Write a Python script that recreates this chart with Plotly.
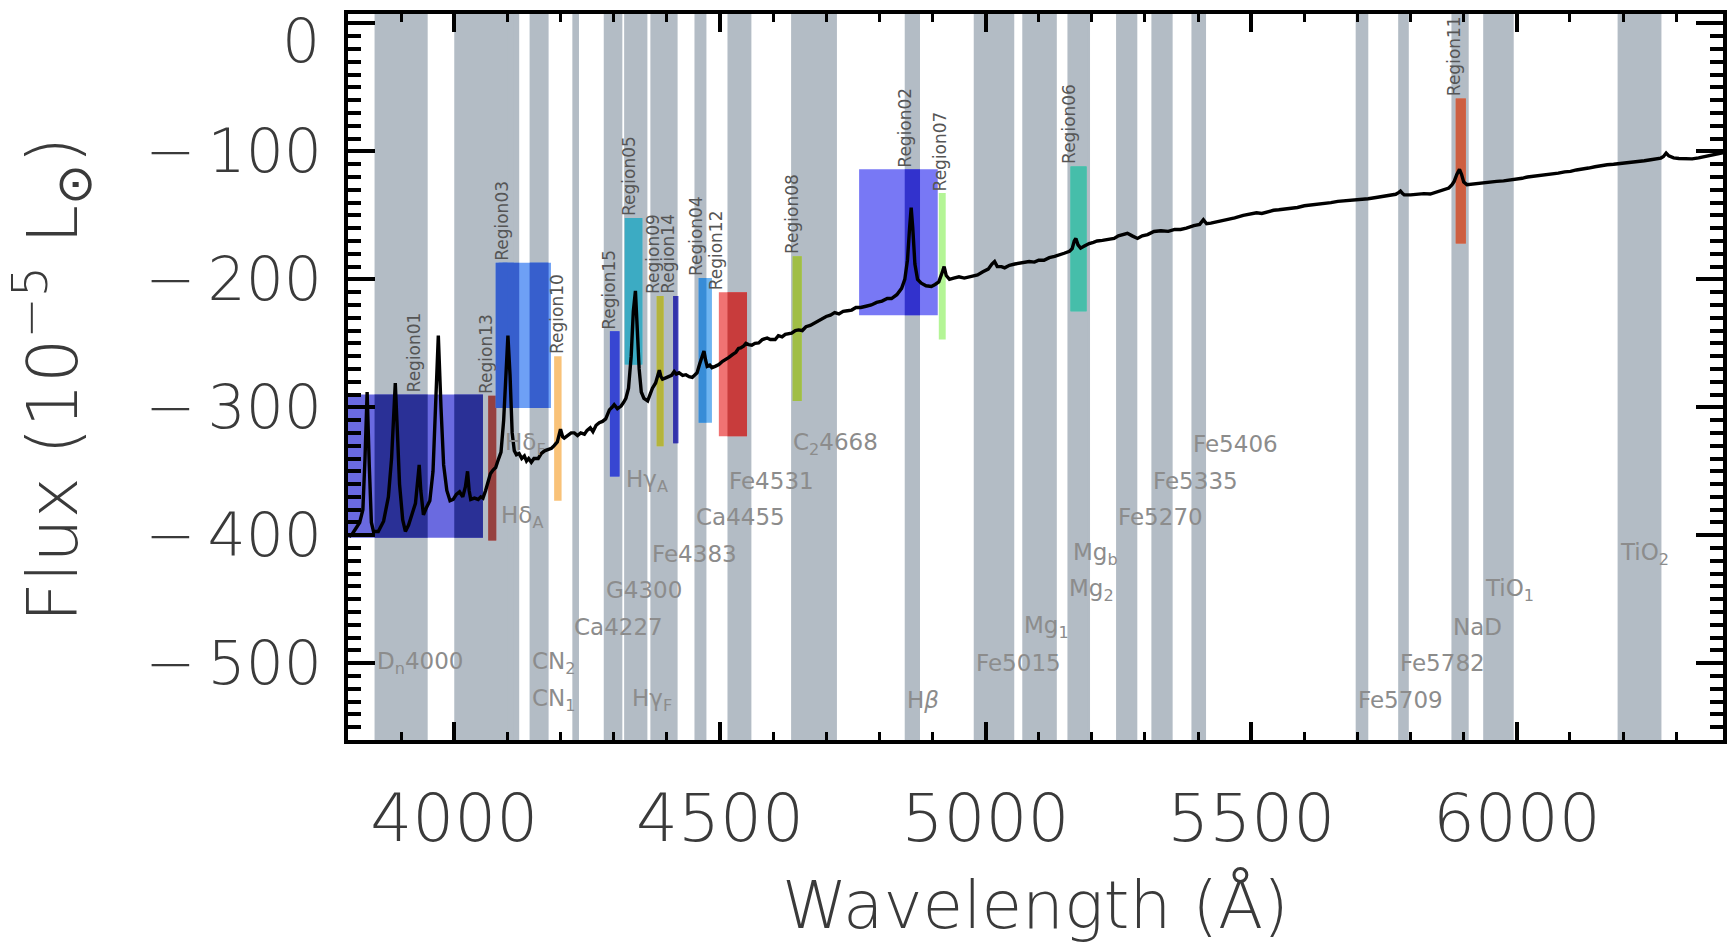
import plotly.graph_objects as go

# ---------------- data ----------------
wavelength = [3802, 3808, 3822, 3828, 3832, 3836, 3840, 3844, 3848, 3857, 3867, 3876, 3882, 3886, 3889,
              3892, 3897, 3903, 3908, 3914, 3920, 3927, 3931, 3934, 3937, 3942, 3948, 3954, 3960, 3965,
              3970, 3975, 3980, 3986, 3992, 3998, 4004, 4010, 4016, 4021, 4025, 4028, 4031, 4038, 4045,
              4050, 4054, 4059, 4064, 4068, 4073, 4078, 4082, 4088, 4093, 4097, 4101, 4105, 4109, 4113,
              4117, 4122, 4127, 4132, 4136, 4140, 4145, 4150, 4158, 4164, 4170, 4176, 4183, 4188, 4194,
              4200, 4204, 4207, 4213, 4220, 4226, 4232, 4238, 4245, 4250, 4256, 4261, 4267, 4273, 4279,
              4285, 4292, 4297, 4301, 4307, 4314, 4319, 4323, 4328, 4333, 4337, 4341, 4344, 4348, 4352,
              4357, 4364, 4369, 4373, 4379, 4383, 4386, 4389, 4392, 4398, 4404, 4409, 4414, 4418, 4423,
              4430, 4436, 4442, 4448, 4453, 4457, 4462, 4466, 4470, 4473, 4476, 4481, 4485, 4491, 4498,
              4505, 4511, 4517, 4523, 4530, 4535, 4539, 4545, 4549, 4554, 4560, 4566, 4573, 4580, 4585,
              4589, 4595, 4604, 4610, 4617, 4623, 4630, 4635, 4642, 4648, 4655, 4662, 4670, 4678, 4685,
              4692, 4700, 4708, 4716, 4724, 4732, 4740, 4748, 4756, 4765, 4775, 4785, 4795, 4805, 4815,
              4823, 4833, 4842, 4848, 4853, 4857, 4860, 4863, 4867, 4872, 4879, 4888, 4898, 4905, 4912,
              4918, 4922, 4926, 4932, 4940, 4950, 4960, 4972, 4985, 4995, 5005, 5012, 5017, 5022, 5030,
              5036, 5045, 5055, 5065, 5073, 5082, 5092, 5100, 5110, 5120, 5130, 5140, 5148, 5158, 5163,
              5167, 5170, 5174, 5179, 5186, 5195, 5203, 5210, 5220, 5230, 5242, 5250, 5259, 5267, 5276,
              5286, 5295, 5305, 5317, 5330, 5344, 5356, 5367, 5378, 5392, 5403, 5410, 5416, 5424, 5437,
              5450, 5469, 5485, 5498, 5510, 5520, 5532, 5542, 5552, 5565, 5577, 5587, 5600, 5612, 5622,
              5636, 5650, 5663, 5677, 5690, 5705, 5720, 5735, 5747, 5760, 5772, 5778, 5781, 5785, 5788,
              5800, 5813, 5825, 5837, 5850, 5862, 5872, 5878, 5882, 5887, 5892, 5896, 5900, 5906, 5915,
              5927, 5940, 5950, 5962, 5975, 5987, 5997, 6010, 6020, 6031, 6045, 6055, 6066, 6078, 6090,
              6101, 6112, 6124, 6135, 6147, 6158, 6170, 6182, 6195, 6205, 6218, 6230, 6240, 6252, 6263,
              6271, 6276, 6281, 6286, 6295, 6305, 6318, 6330, 6342, 6355, 6365, 6378, 6388]
flux = [-401, -399, -390, -380, -340, -288, -345, -390, -397, -397, -389, -370, -340, -300, -281,
        -310, -360, -388, -397, -392, -384, -375, -358, -345, -365, -384, -378, -373, -350, -300,
        -244, -300, -345, -365, -373, -372, -368, -366, -370, -362, -350, -365, -372, -371, -372,
        -370, -371, -365, -358, -352, -349, -347, -342, -335, -310, -270, -244, -275, -320, -334,
        -337, -336, -340, -338, -342, -340, -343, -340, -340, -336, -334, -333, -332, -330, -327,
        -317, -323, -324, -322, -320, -320, -322, -320, -321, -318, -316, -319, -314, -312, -311,
        -309, -302, -300, -298, -301, -299, -296, -293, -285, -260, -225, -209, -235, -270, -288,
        -293, -295, -290, -285, -281, -276, -271, -276, -278, -277, -276, -275, -272, -274, -273,
        -275, -274.5, -276, -276.6, -275, -273, -266, -260, -256, -263, -268, -267, -269, -268, -266.6,
        -264, -262.7, -261, -259, -257, -254, -253.6, -252, -250, -251, -251.5, -250, -249.7, -247, -246,
        -245.8, -247, -247, -244, -245, -243, -242.5, -242, -240, -239.5, -240, -237, -236, -234, -233,
        -231, -229, -228, -226, -227, -225, -224.5, -224, -222, -222, -221, -220, -218, -217, -215,
        -215, -212, -207, -200, -185, -160, -144, -160, -188, -200, -203, -205, -205.6, -204, -202,
        -195, -190, -197, -200, -199, -198, -199, -198, -196.5, -194, -192, -188, -186, -190, -190,
        -191, -189, -188, -187.5, -187, -186, -186.5, -185, -185, -183, -182, -181, -179.6, -178, -176,
        -170, -168, -173, -175.6, -174, -172, -171, -170, -169.5, -169, -168, -166, -165, -164, -166,
        -168, -166, -165, -162.6, -162, -162.5, -161, -161, -160, -158, -157, -153.4, -156.5, -156, -155,
        -154, -152, -150, -149, -148, -148.5, -147, -146, -145.6, -145, -144, -143.8, -142.5, -142, -141.7,
        -141, -140, -139, -138.5, -138, -137.8, -137, -136, -135, -134, -133.5, -132, -131, -133, -134,
        -134, -133.5, -133, -133.3, -131.5, -130, -128.6, -126, -123.4, -118, -114, -118, -124, -126, -125.5,
        -124.7, -124, -123.8, -123.4, -123, -122.5, -122, -121, -120, -119.5, -119, -118.5, -118, -117, -116,
        -115.6, -114.5, -114, -113, -112, -111, -110.4, -110, -109.5, -109, -108.5, -108, -107.3, -106.5, -106,
        -105.2, -104, -101.3, -103.5, -105, -105.5, -106, -105.8, -105, -104, -103, -102, -101]

# Index bandpasses (grey bands) and their labels
band_lo = [4142.125, 4142.125, 4222.250, 4281.375, 4369.125, 4452.125, 4514.250, 4634.000,
           4847.875, 4977.750, 5069.125, 5154.125, 5160.125, 5245.650, 5312.125, 5387.500,
           5696.625, 5776.625, 5876.875, 5936.625, 6189.625, 4083.500, 4319.750, 4091.000,
           4331.250, 3850.000, 4000.000]
band_hi = [4177.125, 4177.125, 4234.750, 4316.375, 4420.375, 4474.625, 4559.250, 4720.250,
           4876.625, 5054.000, 5134.125, 5196.625, 5192.625, 5285.650, 5352.125, 5415.000,
           5720.375, 5796.625, 5909.375, 5994.125, 6272.125, 4122.250, 4363.500, 4112.250,
           4352.250, 3950.000, 4100.000]
band_labels = ["CN<sub>1</sub>", "CN<sub>2</sub>", "Ca4227", "G4300", "Fe4383", "Ca4455", "Fe4531",
               "C<sub>2</sub>4668", "H<i>β</i>", "Fe5015", "Mg<sub>1</sub>", "Mg<sub>2</sub>",
               "Mg<sub>b</sub>", "Fe5270", "Fe5335", "Fe5406", "Fe5709", "Fe5782", "NaD",
               "TiO<sub>1</sub>", "TiO<sub>2</sub>", "Hδ<sub>A</sub>", "Hγ<sub>A</sub>",
               "Hδ<sub>F</sub>", "Hγ<sub>F</sub>", "D<sub>n</sub>4000", ""]
band_label_flux = [-528.5, -500, -471.5, -443, -414.5, -386, -357.5, -329,
                   -528.5, -500, -471.5, -443, -414.5, -386, -357.5, -329,
                   -528.5, -500, -471.5, -443, -414.5, -386, -357.5, -329,
                   -528.5, -500, None]

# Emission-line regions
region_names = ["Region01", "Region13", "Region03", "Region10", "Region15", "Region05", "Region09",
                "Region14", "Region04", "Region12", "Region08", "Region02", "Region07", "Region06",
                "Region11"]
region_lo = [3800, 4064, 4078, 4188, 4293, 4321, 4381, 4412, 4460, 4498, 4637, 4762, 4912, 5160, 5885]
region_hi = [4054, 4079, 4182, 4202, 4311, 4354, 4394, 4422, 4485, 4551, 4654, 4910, 4925, 5190, 5904]
region_bottom = [-402, -404, -300.5, -373, -354, -266.6, -330.5, -328, -312, -322.7, -295, -228, -247, -225, -172]
region_top = [-290, -291, -187, -260, -240.6, -152, -213, -213, -199, -210, -182, -114, -132.5, -111.7, -58.6]
region_label_x = [3924, 4060, 4090, 4193, 4292, 4329, 4374, 4402, 4455, 4493, 4637, 4849, 4915, 5158, 5883]
region_color_white = ["#6a6ae0", "#be6a68", "#6ea0f5", "#f9c278", "#5a6ef0", "#5ac8d7", "#d2d264",
                      "#5050c8", "#6eb4f0", "#f07373", "#b9d75f", "#7878f5", "#b4f596", "#64d7c3", "#eb785a"]
region_color_grey = ["#2a3096", "#96413f", "#375fcd", "#d2a56e", "#3746d2", "#3cabc3", "#b4b43c",
                     "#3232aa", "#378cd7", "#c83c3c", "#a0be46", "#3232cd", "#96d278", "#46beaa", "#cd5f41"]

x_range = [3800, 6388]
y_range = [-560, 7.4]
y_ticks = [0, -100, -200, -300, -400, -500]
y_ticktext = ["", "−\u2009100", "−\u2009200", "−\u2009300", "−\u2009400", "−\u2009500"]

# ---------------- figure ----------------
FONT = "DejaVu Sans"
TXT = "#3a3a3a"
fig = go.Figure()

shapes = []
GREY = "#b3bcc5"
for lo, hi in zip(band_lo, band_hi):
    shapes.append(dict(type="rect", xref="x", yref="paper", x0=lo, x1=hi, y0=0, y1=1,
                       fillcolor=GREY, line=dict(width=0), layer="below"))

for i in range(len(region_names)):
    lo, hi, b, t = region_lo[i], region_hi[i], region_bottom[i], region_top[i]
    shapes.append(dict(type="rect", xref="x", yref="y", x0=lo, x1=hi, y0=b, y1=t,
                       fillcolor=region_color_white[i], line=dict(width=0), layer="below"))
    for blo, bhi in zip(band_lo, band_hi):
        a0, a1 = max(lo, blo), min(hi, bhi)
        if a1 > a0:
            shapes.append(dict(type="rect", xref="x", yref="y", x0=a0, x1=a1, y0=b, y1=t,
                               fillcolor=region_color_grey[i], line=dict(width=0), layer="below"))

fig.add_trace(go.Scatter(x=wavelength, y=flux, mode="lines",
                         line=dict(color="black", width=3.4), hoverinfo="skip", showlegend=False))

annotations = []
for txt, lo, yv in zip(band_labels, band_lo, band_label_flux):
    if not txt:
        continue
    annotations.append(dict(x=lo, y=yv, xref="x", yref="y", text=txt, showarrow=False,
                            xanchor="left", yanchor="middle",
                            font=dict(family=FONT, size=23, color="#8c8c8c")))

for name, lx, top in zip(region_names, region_label_x, region_top):
    annotations.append(dict(x=lx, y=top, xref="x", yref="y", text=name, showarrow=False,
                            textangle=-90, xanchor="center", yanchor="bottom",
                            font=dict(family=FONT, size=17, color="#555555")))

# top "0" tick label (sits a little below its tick in the reference)
annotations.append(dict(x=0, y=-14, xref="paper", yref="y", text="0", showarrow=False,
                        xanchor="right", yanchor="middle", xshift=-26,
                        font=dict(family=FONT, size=60, color=TXT, weight=200)))
annotations.append(dict(x=0.5, y=-0.228, xref="paper", yref="paper", text="Wavelength (Å)",
                        showarrow=False, xanchor="center", yanchor="middle",
                        font=dict(family=FONT, size=66, color=TXT, weight=200)))
annotations.append(dict(x=-0.215, y=0.497, xref="paper", yref="paper",
                        text="Flux (10<sup>−5</sup> L<sub>⊙</sub>)", textangle=-90,
                        showarrow=False, xanchor="center", yanchor="middle",
                        font=dict(family=FONT, size=70, color=TXT, weight=200)))

fig.update_layout(
    width=1729, height=948,
    margin=dict(l=348, r=2, t=14, b=208),
    paper_bgcolor="white", plot_bgcolor="white",
    shapes=shapes, annotations=annotations, showlegend=False,
    xaxis=dict(range=x_range, showgrid=False, zeroline=False,
               showline=True, linecolor="black", linewidth=4, mirror="ticks",
               tickmode="linear", tick0=4000, dtick=500,
               ticks="inside", ticklen=18, tickwidth=4, tickcolor="black",
               minor=dict(tickmode="linear", tick0=3800, dtick=100, ticks="inside",
                          ticklen=8, tickwidth=3, tickcolor="black"),
               tickfont=dict(family=FONT, size=66, color=TXT, weight=200),
               ticklabelstandoff=18),
    yaxis=dict(range=y_range, showgrid=False, zeroline=False,
               showline=True, linecolor="black", linewidth=4, mirror="ticks",
               tickmode="array", tickvals=y_ticks, ticktext=y_ticktext,
               ticks="inside", ticklen=27, tickwidth=4, tickcolor="black",
               minor=dict(tickmode="linear", tick0=0, dtick=10, ticks="inside",
                          ticklen=13, tickwidth=4, tickcolor="black"),
               tickfont=dict(family=FONT, size=60, color=TXT, weight=200),
               ticklabelstandoff=10),
)

fig.write_html("out.html", config={"displayModeBar": False},
               post_script="document.body.style.margin='0';document.body.style.overflow='hidden';")
